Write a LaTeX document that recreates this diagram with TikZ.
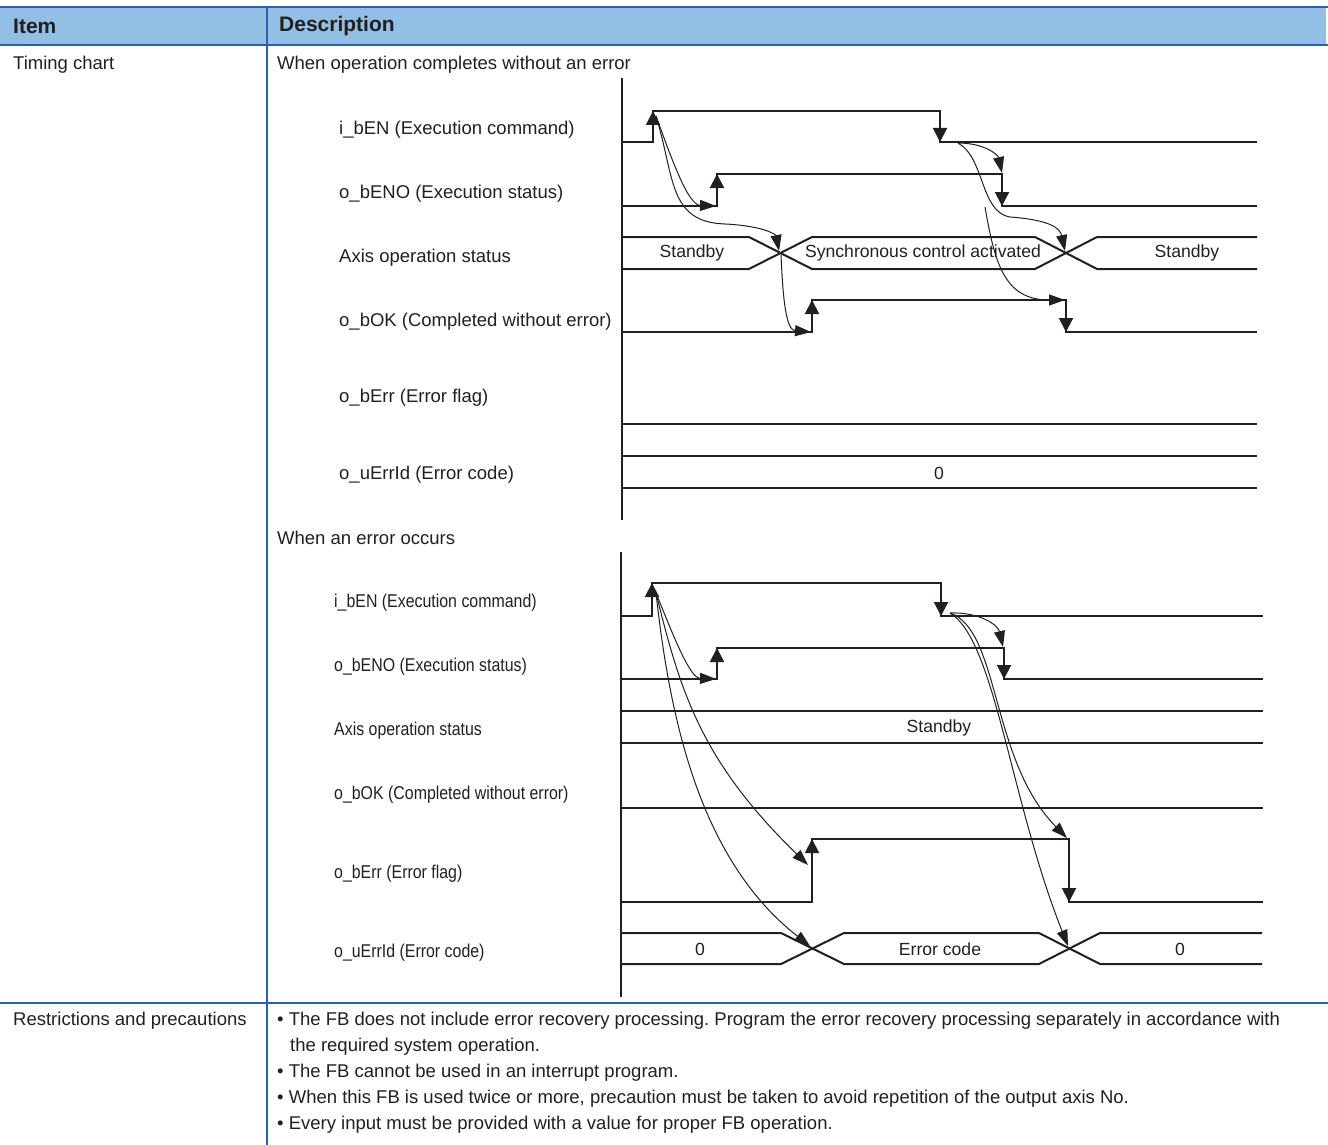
\documentclass[tikz,border=0pt]{standalone}
\usepackage{fontspec}
\setmainfont{Liberation Sans}
\newfontfamily\narrowfont[FakeStretch=0.86]{Liberation Sans}
\usetikzlibrary{arrows.meta, positioning}
\definecolor{headblue}{RGB}{146,191,227}
\definecolor{rulecol}{RGB}{47,94,170}
\definecolor{ink}{RGB}{35,31,32}
\frenchspacing

\begin{document}
\begin{tikzpicture}[x=1pt, y=-1pt,
    txt/.style={anchor=west, inner sep=0pt, text=ink, font=\fontsize{18.5}{22}\selectfont},
    nlbl/.style={anchor=west, inner sep=0pt, text=ink, font=\narrowfont\fontsize{18.5}{22}\selectfont},
    head/.style={anchor=west, inner sep=0pt, text=ink, font=\fontsize{21}{25}\selectfont\bfseries},
    buslbl/.style={inner sep=0pt, text=ink, font=\fontsize{17.6}{21}\selectfont},
    sig/.style={draw=ink, line width=2pt},
    edgetip/.style={draw=ink, line width=2pt, -{Triangle[width=14pt,length=14pt]}},
    cause/.style={draw=ink, line width=1pt, -{Triangle[width=11pt,length=16pt]}},
    rule/.style={draw=rulecol, line width=2pt}]

    \useasboundingbox (0,0) rectangle (1328,1145);

    % Table frame
    \fill[headblue] (0,7) rectangle (1326,45);
    \draw[rule] (0,7) -- (1328,7);
    \draw[rule] (0,45) -- (1328,45);
    \draw[rule] (267,7) -- (267,1145);
    \draw[rule] (0,1003) -- (1328,1003);

    \node [head] (hitem) at (13,26) {Item};
    \node [head] (hdesc) at (279,26) {Description};
    \node [txt] (rowchart) at (13,65) {Timing chart};
    \node [txt] (caseok) at (277,65) {When operation completes without an error};
    \node [txt] (caseerr) at (277,538) {When an error occurs};

    % Chart A: completes without an error
    \node [txt] (enA) at (339,130) {i\_bEN (Execution command)};
    \node [txt] (enoA) at (339,194) {o\_bENO (Execution status)};
    \node [txt] (stA) at (339,258) {Axis operation status};
    \node [txt] (okA) at (339,322) {o\_bOK (Completed without error)};
    \node [txt] (errA) at (339,398) {o\_bErr (Error flag)};
    \node [txt] (idA) at (339,475) {o\_uErrId (Error code)};

    \draw[sig] (622,78) -- (622,520);
    \draw[sig] (622,142) -- (653,142) -- (653,111) -- (940,111) -- (940,142) -- (1257,142);
    \draw[edgetip] (653,142) -- (653,111);
    \draw[edgetip] (940,111) -- (940,142);
    \draw[sig] (622,206) -- (717,206) -- (717,174) -- (1002,174) -- (1002,206) -- (1257,206);
    \draw[edgetip] (717,206) -- (717,174);
    \draw[edgetip] (1002,174) -- (1002,206);
    \draw[sig] (622,237) -- (749,237) -- (812,269) -- (1035,269) -- (1097,237) -- (1257,237);
    \draw[sig] (622,269) -- (749,269) -- (812,237) -- (1035,237) -- (1097,269) -- (1257,269);
    \node [buslbl] (sbA1) at (692,253) {Standby};
    \node [buslbl] (scA) at (923,253) {Synchronous control activated};
    \node [buslbl] (sbA2) at (1187,253) {Standby};
    \draw[sig] (622,332) -- (812,332) -- (812,300) -- (1066,300) -- (1066,332) -- (1257,332);
    \draw[edgetip] (812,332) -- (812,300);
    \draw[edgetip] (1066,300) -- (1066,332);
    \draw[sig] (622,424) -- (1257,424);
    \draw[sig] (622,456) -- (1257,456);
    \draw[sig] (622,488) -- (1257,488);
    \node [buslbl] (zeroA) at (939,473) {0};

    \coordinate (enA-r) at (656,116);
    \coordinate (enA-f) at (958,143);
    \coordinate (enoA-r) at (716,206);
    \coordinate (enoA-f) at (1002,173);
    \coordinate (enoA-lo) at (985,207);
    \coordinate (xA1) at (779,251);
    \coordinate (xA1-o) at (781,255);
    \coordinate (xA2) at (1065,251);
    \coordinate (okA-r) at (811,332);
    \coordinate (okA-f) at (1065,300);

    \path [cause] (enA-r) .. controls (672,160) and (688,205) .. (enoA-r);
    \path [cause] (enA-r) .. controls (675,178) and (668,222) .. (725,224) .. controls (765,226) and (776,235) .. (xA1);
    \path [cause] (xA1-o) .. controls (783,300) and (786,330) .. (okA-r);
    \path [cause] (enA-f) .. controls (985,143) and (998,155) .. (enoA-f);
    \path [cause] (enA-f) .. controls (985,158) and (980,212) .. (1010,217) .. controls (1050,220) and (1060,228) .. (xA2);
    \path [cause] (enoA-lo) .. controls (995,265) and (1005,300) .. (okA-f);

    % Chart B: an error occurs
    \node [nlbl] (enB) at (334,603) {i\_bEN (Execution command)};
    \node [nlbl] (enoB) at (334,667) {o\_bENO (Execution status)};
    \node [nlbl] (stB) at (334,731) {Axis operation status};
    \node [nlbl] (okB) at (334,795) {o\_bOK (Completed without error)};
    \node [nlbl] (errB) at (334,874) {o\_bErr (Error flag)};
    \node [nlbl] (idB) at (334,953) {o\_uErrId (Error code)};

    \draw[sig] (621,552) -- (621,997);
    \draw[sig] (621,616) -- (652,616) -- (652,583) -- (941,583) -- (941,616) -- (1263,616);
    \draw[edgetip] (652,616) -- (652,583);
    \draw[edgetip] (941,583) -- (941,616);
    \draw[sig] (621,679) -- (717,679) -- (717,648) -- (1004,648) -- (1004,679) -- (1263,679);
    \draw[edgetip] (717,679) -- (717,648);
    \draw[edgetip] (1004,648) -- (1004,679);
    \draw[sig] (621,711) -- (1263,711);
    \draw[sig] (621,743) -- (1263,743);
    \node [buslbl] (sbB) at (939,728) {Standby};
    \draw[sig] (621,808) -- (1263,808);
    \draw[sig] (621,902) -- (812,902) -- (812,839) -- (1069,839) -- (1069,902) -- (1263,902);
    \draw[edgetip] (812,902) -- (812,839);
    \draw[edgetip] (1069,839) -- (1069,902);
    \draw[sig] (621,933) -- (781,933) -- (844,964) -- (1039,964) -- (1100,933) -- (1262,933);
    \draw[sig] (621,964) -- (781,964) -- (844,933) -- (1039,933) -- (1100,964) -- (1262,964);
    \node [buslbl] (zeroB1) at (700,949) {0};
    \node [buslbl] (ecB) at (940,949) {Error code};
    \node [buslbl] (zeroB2) at (1180,949) {0};

    \coordinate (enB-r) at (656,593);
    \coordinate (enB-f) at (950,613);
    \coordinate (enoB-r) at (716,679);
    \coordinate (enoB-f) at (1003,647);
    \coordinate (errB-r) at (808,865);
    \coordinate (errB-f) at (1067,838);
    \coordinate (xB1) at (810,946);
    \coordinate (xB2) at (1068,946);

    \path [cause] (enB-r) .. controls (675,640) and (690,678) .. (enoB-r);
    \path [cause] (enB-r) .. controls (680,690) and (700,760) .. (errB-r);
    \path [cause] (enB-r) .. controls (670,720) and (700,860) .. (xB1);
    \path [cause] (enB-f) .. controls (980,612) and (998,625) .. (enoB-f);
    \path [cause] (enB-f) .. controls (1000,630) and (990,760) .. (errB-f);
    \path [cause] (enB-f) .. controls (995,640) and (1010,800) .. (xB2);

    % Restrictions row
    \node [txt] (rowrest) at (13,1021) {Restrictions and precautions};
    \node [txt] (rest1) at (277,1021) {\textbullet\ The FB does not include error recovery processing. Program the error recovery processing separately in accordance with};
    \node [txt] (rest1b) at (290,1047) {the required system operation.};
    \node [txt] (rest2) at (277,1073) {\textbullet\ The FB cannot be used in an interrupt program.};
    \node [txt] (rest3) at (277,1099) {\textbullet\ When this FB is used twice or more, precaution must be taken to avoid repetition of the output axis No.};
    \node [txt] (rest4) at (277,1125) {\textbullet\ Every input must be provided with a value for proper FB operation.};
\end{tikzpicture}
\end{document}
